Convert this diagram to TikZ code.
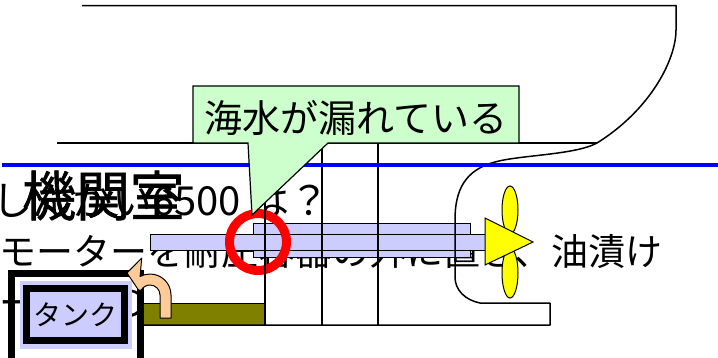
\documentclass[tikz,border=0pt]{standalone}
\usepackage{fontspec}
\newfontfamily\jp{Noto Sans CJK JP}
\newfontfamily\jpheavy[FakeBold=1.2]{Noto Sans CJK JP}
\definecolor{lav}{HTML}{CCCCFF}
\definecolor{mint}{HTML}{CCFFCC}
\definecolor{olivefill}{HTML}{808000}
\definecolor{peach}{HTML}{FFCC99}
\definecolor{prop}{HTML}{FFFF00}
\definecolor{ring}{HTML}{FF0000}
\definecolor{sea}{HTML}{0000FF}
\begin{document}
\begin{tikzpicture}[x=1pt,y=-1pt,
  hull/.style={draw=black,line width=1.5pt,line join=round},
  frameline/.style={draw=black,line width=1.2pt},
  bar/.style={draw=black,line width=1pt,fill=lav},
  blade/.style={draw=black,line width=1pt,fill=prop},
  leak/.style={draw=ring,line width=9pt},
  waterline/.style={draw=sea,line width=4pt},
  callout/.style={draw=black,line width=1.2pt,fill=mint,line join=miter},
  thick frame/.style={draw=black,line width=7pt},
  txt/.style={inner sep=0pt,font=\jp}]
\useasboundingbox (0,0) rectangle (718,357);
\clip (0,0) rectangle (718,357);
\fill[white] (0,0) rectangle (718,357);

% slide text lying underneath the sketch
\node[txt,anchor=base west] (line1) at (-8,215) {\fontsize{40}{44}\selectfont しんかい6500 は？};
\node[txt,anchor=base west] (line2) at (-1,265) {\fontsize{37}{40}\selectfont モーターを耐圧容器の外に置き、油漬け};
\node[txt,anchor=base west] (line3) at (-1,316) {\fontsize{37}{40}\selectfont ー　　の};
\node[txt,anchor=base west,font=\jpheavy] (room) at (22,216) {\fontsize{54}{58}\selectfont 機関室};

% oil pipe from the tank
\draw[draw=black,line width=1pt,fill=olivefill] (143,303) rectangle (265,325);

% stern tube and propeller shaft
\draw[bar] (253,223) rectangle (470,257);
\draw[bar] (150,234) rectangle (486,250);

% propeller
\draw[blade] (510,210) ellipse [x radius=8, y radius=24];
\draw[blade] (510,273) ellipse [x radius=8, y radius=25];
\draw[blade,line join=miter] (485,218) -- (533,242) -- (485,265) -- cycle;

% leak mark
\draw[leak] (258,242) circle [radius=28.5];

% hull outline
\draw[hull] (82,5.5) -- (676,5.5) -- (676,30)
  .. controls (676,60) and (650,110) .. (597,143)
  .. controls (575,155) and (520,155) .. (495,162)
  .. controls (465,170) and (455,190) .. (455,220)
  -- (455,277) .. controls (455,290) and (465,300) .. (480,303)
  -- (550,303) -- (550,325) -- (143,325);
\draw[hull] (57,143) -- (597,143);
\draw[frameline] (265,143) -- (265,325);
\draw[frameline] (322,143) -- (322,325);
\draw[frameline] (378,143) -- (378,325);

% waterline
\draw[waterline] (2,165) -- (718,165);

% tank
\draw[thick frame] (11,273) rectangle (140.5,370);
\fill[lav] (20,281) rectangle (132,349);
\draw[thick frame,fill=lav] (26.5,288.2) rectangle (124.5,340.2);
\node[txt] (tank) at (75.5,315) {\fontsize{28}{30}\selectfont タンク};

% return arrow
\draw[draw=black,line width=1pt,fill=peach,line join=round]
  (171,318) -- (171,295)
  .. controls (171,283.4) and (161.6,274) .. (150,274)
  .. controls (146.5,274) and (143.1,274.9) .. (140.1,276.5)
  -- (141.7,258) -- (127,273) -- (138.5,290) -- (141.3,290)
  .. controls (143.1,286.9) and (146.4,285) .. (150,285)
  .. controls (155.5,285) and (160,289.5) .. (160,295)
  -- (160,318) -- cycle;

% callout
\draw[callout] (193,86) -- (519,86) -- (519,143) -- (328,143)
  -- (252,215) -- (248,143) -- (193,143) -- cycle;
\node[txt,anchor=base] (leaktext) at (356,132) {\fontsize{38}{42}\selectfont 海水が漏れている};
\end{tikzpicture}
\end{document}
